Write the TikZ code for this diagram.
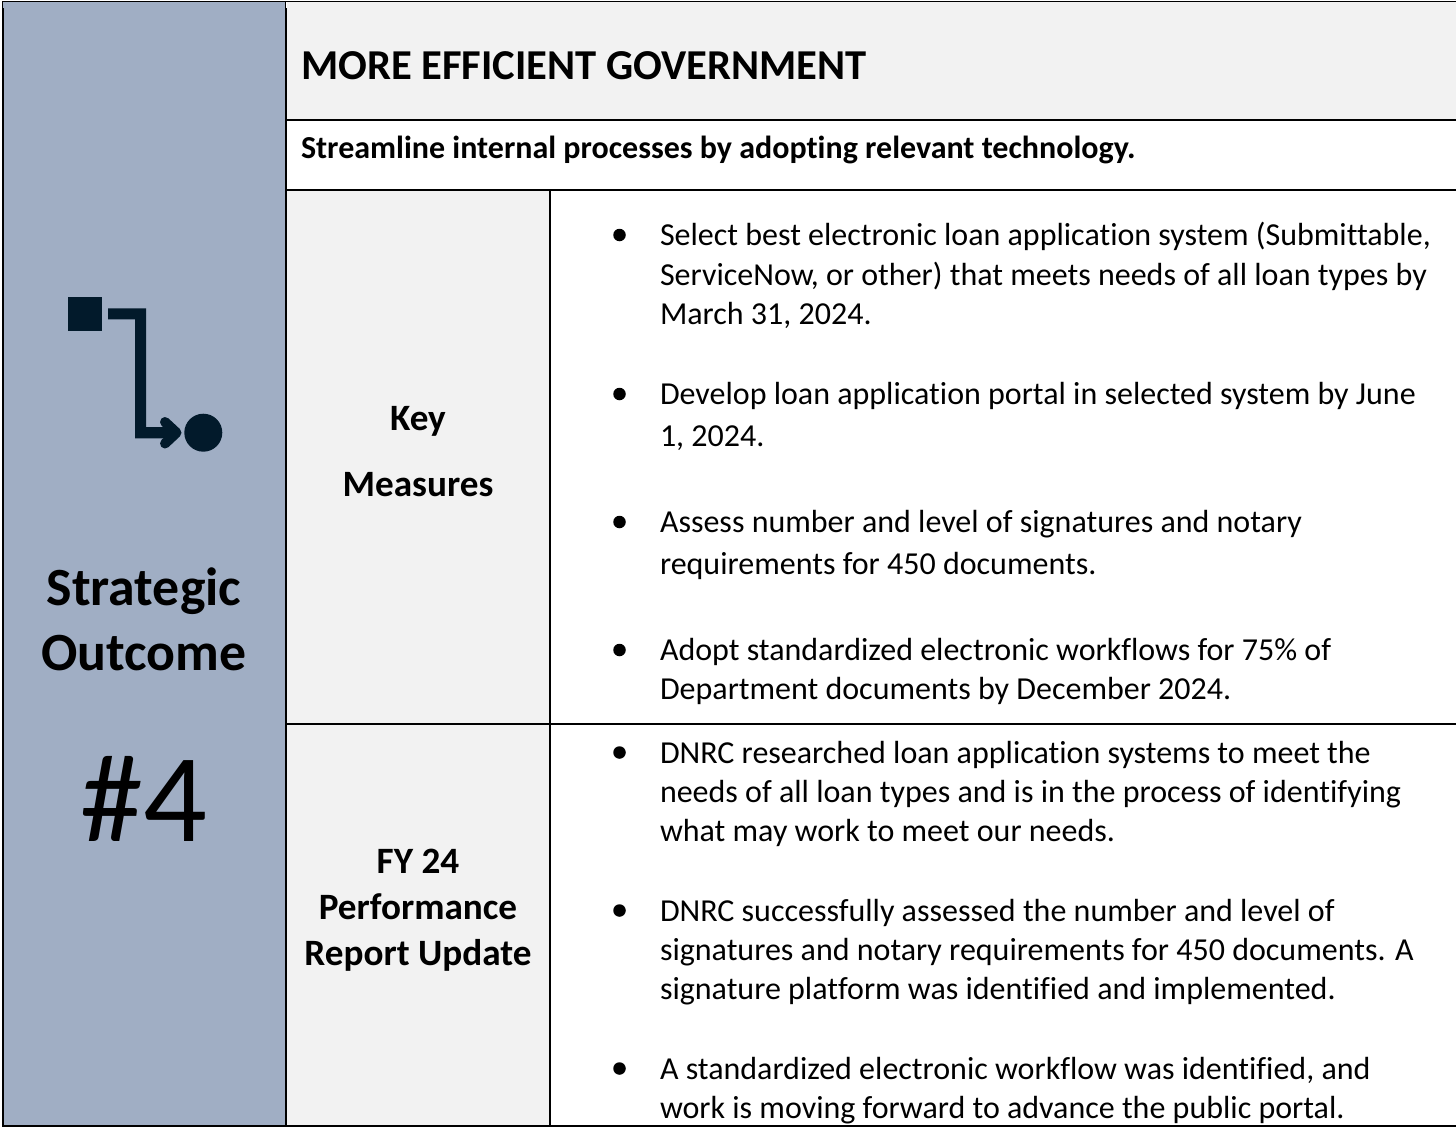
\documentclass[tikz,border=0pt]{standalone}
\usepackage{fontspec}
\setmainfont[Ligatures=NoCommon]{Carlito}
\tikzset{
  x=1pt,y=-1pt,
  ln/.style={anchor=base west,inner sep=0pt,outer sep=0pt,yshift=-1pt,font=\fontsize{32}{38}\selectfont},
  ctr/.style={anchor=base,inner sep=0pt,outer sep=0pt,yshift=-1pt,font=\fontsize{37.2}{44}\selectfont\bfseries},
  side/.style={anchor=base,inner sep=0pt,outer sep=0pt,yshift=-1pt,font=\fontsize{53.8}{62}\selectfont\bfseries},
  dot/.style={circle,fill=black,inner sep=0pt,minimum size=12.5pt},
  rule/.style={line width=2pt,draw=black,line cap=butt},
  thinrule/.style={line width=1pt,draw=black,line cap=butt},
  icon/.style={fill=iconc,draw=none},
}
\definecolor{band}{HTML}{A0AEC4}
\definecolor{pale}{HTML}{F2F2F2}
\definecolor{iconc}{HTML}{021A2B}
\begin{document}
\begin{tikzpicture}
\useasboundingbox (0,0) rectangle (1456,1127);
\fill[white] (0,0) rectangle (1456,1127);
\fill[band] (3,2) rectangle (285,1125);
\fill[pale] (287,2) rectangle (1456,119);
\fill[pale] (287,191) rectangle (549,1125);
% rules
\draw[thinrule] (2,1.5) -- (1456,1.5);
\draw[rule] (3,8) -- (3,1127);
\draw[thinrule] (2.5,1) -- (2.5,8);
\draw[rule] (286,8) -- (286,1127);
\draw[thinrule] (285.5,1) -- (285.5,8);
\draw[rule] (286,120) -- (1456,120);
\draw[rule] (286,190) -- (1456,190);
\draw[rule] (286,724) -- (1456,724);
\draw[rule] (550,190) -- (550,1127);
\draw[rule] (2,1126) -- (1456,1126);
% icon
\fill[icon] (67.5,297) rectangle (101.7,330.7);
\fill[icon] (108,308.3) -- (146,308.3) -- (146,427) -- (175,427) -- (175,438.3) -- (135,438.3) -- (135,319.3) -- (108,319.3) -- cycle;
\draw[iconc,line width=10pt,line cap=round,line join=round] (165,422) -- (176.5,432.7) -- (165,443.5);
\fill[icon] (203.3,432.7) circle (19);
% side
\node[side] (s1) at (144,604) {Strategic};
\node[side] (s2) at (144,669) {Outcome};
\node[anchor=base,inner sep=0pt,font=\fontsize{126}{130}\selectfont] (s3) at (144,841) {\#4};
% header
\node[ln,font=\fontsize{42.6}{50}\selectfont\bfseries] (h1) at (301,78) {MORE EFFICIENT GOVERNMENT};
\node[ln,font=\fontsize{32}{38}\selectfont\bfseries] (h2) at (301,157) {Streamline internal processes by adopting relevant technology.};
% row labels
\node[ctr] (k1) at (418,429) {Key};
\node[ctr] (k2) at (418,495) {Measures};
\node[ctr] (f1) at (418,872) {FY 24};
\node[ctr] (f2) at (418,918) {Performance};
\node[ctr] (f3) at (418,964) {Report Update};
% bullets
\foreach \n/\y in {a/235,b/394,c/522,d/650,e/752.5,f/910.5,g/1068.5}
  \node[dot] (b\n) at (619.5,\y) {};
% key measures
\node[ln] (a1) at (660,244) {Select best electronic loan application system (Submittable,};
\node[ln] (a2) at (660,284) {ServiceNow, or other) that meets needs of all loan types by};
\node[ln] (a3) at (660,323) {March 31, 2024.};
\node[ln] (b1) at (660,403) {Develop loan application portal in selected system by June};
\node[ln] (b2) at (660,445) {1, 2024.};
\node[ln] (c1) at (660,531) {Assess number and level of signatures and notary};
\node[ln] (c2) at (660,573) {requirements for 450 documents.};
\node[ln] (d1) at (660,659) {Adopt standardized electronic workflows for 75\% of};
\node[ln] (d2) at (660,698) {Department documents by December 2024.};
% update
\node[ln] (e1) at (660,762) {DNRC researched loan application systems to meet the};
\node[ln] (e2) at (660,801) {needs of all loan types and is in the process of identifying};
\node[ln] (e3) at (660,840) {what may work to meet our needs.};
\node[ln] (f1b) at (660,920) {DNRC successfully assessed the number and level of};
\node[ln] (f2b) at (660,959) {signatures and notary requirements for 450 documents. A};
\node[ln] (f3b) at (660,998) {signature platform was identified and implemented.};
\node[ln] (g1) at (660,1078) {A standardized electronic workflow was identified, and};
\node[ln] (g2) at (660,1117) {work is moving forward to advance the public portal.};
\end{tikzpicture}
\end{document}
